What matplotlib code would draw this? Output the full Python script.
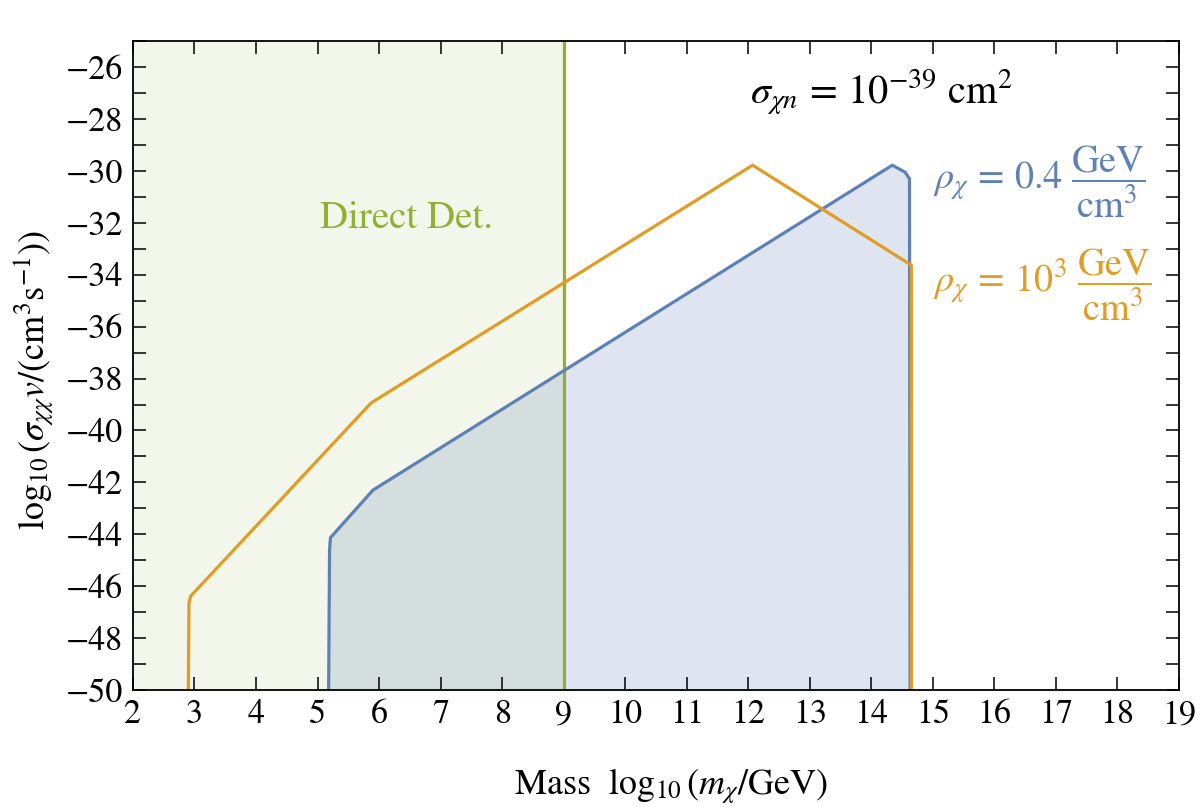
import numpy as np
import matplotlib.pyplot as plt
from matplotlib.ticker import MultipleLocator
plt.switch_backend('agg')

plt.rcParams['font.family'] = 'STIXGeneral'
plt.rcParams['mathtext.fontset'] = 'stix'

# orange curve: rho = 1e3 GeV/cm^3
orange_x = [2.90, 2.91, 2.94, 5.87, 12.07, 14.65, 14.65]
orange_y = [-50.0, -46.65, -46.38, -38.94, -29.78, -33.63, -50.0]

# blue curve: rho = 0.4 GeV/cm^3
blue_x = [5.18, 5.195, 5.21, 5.90, 14.34, 14.55, 14.62, 14.63]
blue_y = [-50.0, -44.6, -44.13, -42.30, -29.78, -30.05, -30.3, -50.0]

direct_det_max = 9.0

c_blue = '#5E81B5'
c_orange = '#E19C24'
c_green = '#8FB032'

fig = plt.figure(figsize=(12, 8.07), dpi=100)
ax = fig.add_axes([0.1108, 0.145, 0.8717, 0.804])

xmin, xmax = 2, 19
ymin, ymax = -50, -25

# direct detection region
ax.axvspan(xmin, direct_det_max, color=c_green, alpha=0.1, lw=0)
ax.axvline(direct_det_max, color=c_green, lw=2.3)

ax.fill_between(blue_x, blue_y, ymin, color=c_blue, alpha=0.2, lw=0)
ax.plot(blue_x, blue_y, color=c_blue, lw=2.3)
ax.plot(orange_x, orange_y, color=c_orange, lw=2.3)

ax.set_xlim(xmin, xmax)
ax.set_ylim(ymin, ymax)

ax.xaxis.set_major_locator(MultipleLocator(1))
ax.yaxis.set_major_locator(MultipleLocator(2))
ax.yaxis.set_minor_locator(MultipleLocator(1))
ax.tick_params(which='both', direction='in', top=True, right=True,
               length=9.5, width=1.1, labelsize=24.5, pad=7)
for s in ax.spines.values():
    s.set_linewidth(1.3)

ax.set_xlabel(r'Mass  $\log_{10}(m_\chi/\mathrm{GeV})$', fontsize=26)
ax.set_ylabel(r'$\log_{10}(\sigma_{\chi\chi} v/(\mathrm{cm}^3\mathrm{s}^{-1}))$',
              fontsize=26)
ax.xaxis.set_label_coords(0.514, -0.118)
ax.yaxis.set_label_coords(-0.074, 0.478)

fs = 27.5
ax.text(6.45, -31.82, 'Direct Det.', color=c_green, fontsize=28,
        ha='center', va='center')
ax.text(14.16, -26.95, r'$\sigma_{\chi n}\,=\,10^{-39}\ \mathrm{cm}^2$',
        fontsize=29, ha='center', va='center')
ax.text(15.0, -30.4, r'$\rho_\chi\,=\,0.4\ \dfrac{\mathrm{GeV}}{\mathrm{cm}^3}$',
        color=c_blue, fontsize=fs, ha='left', va='center')
ax.text(15.0, -34.4, r'$\rho_\chi\,=\,10^3\ \dfrac{\mathrm{GeV}}{\mathrm{cm}^3}$',
        color=c_orange, fontsize=fs, ha='left', va='center')

fig.savefig('out.png', dpi=100)
plt.close('all')
